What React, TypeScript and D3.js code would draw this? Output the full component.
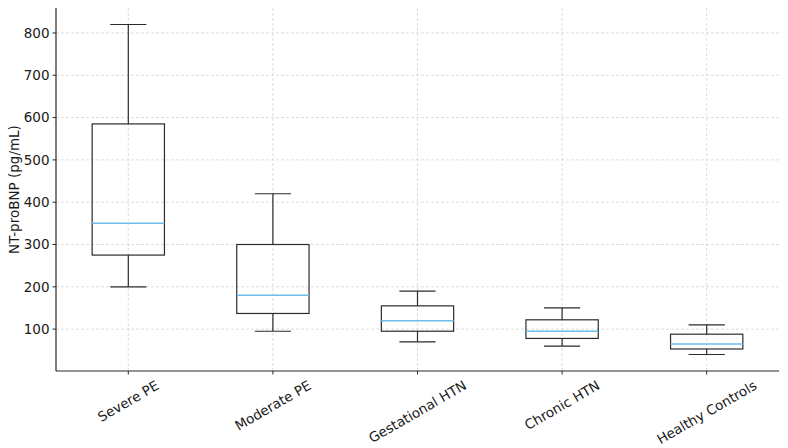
import React, { useEffect, useRef } from 'react';
import * as d3 from 'd3';

// Group names and box statistics (pg/mL)
const GROUPS = ['Severe PE', 'Moderate PE', 'Gestational HTN', 'Chronic HTN', 'Healthy Controls'];
const WHISKER_LOW = [200, 95, 70, 60, 40];
const Q1 = [275, 137, 95, 78, 53];
const MEDIAN = [350, 180, 120, 95, 65];
const Q3 = [585, 300, 155, 122, 88];
const WHISKER_HIGH = [820, 420, 190, 150, 110];
const Y_TICKS = [100, 200, 300, 400, 500, 600, 700, 800];

const App: React.FC = () => {
  const svgRef = useRef<SVGSVGElement>(null);

  useEffect(() => {
    if (!svgRef.current) return;
    d3.select(svgRef.current).selectAll('*').remove();

    const width = 788;
    const height = 448;
    const margin = { top: 8, right: 9, bottom: 77, left: 56 };
    const innerW = width - margin.left - margin.right;
    const innerH = height - margin.top - margin.bottom;
    const fontSize = '13.5px';

    const svg = d3.select(svgRef.current)
      .attr('width', width)
      .attr('height', height)
      .style('font-family', 'DejaVu Sans, sans-serif');

    const g = svg.append('g')
      .attr('transform', `translate(${margin.left},${margin.top})`);

    // positions 1..n with 0.5 padding like matplotlib's boxplot
    const x = d3.scaleLinear().domain([0.5, GROUPS.length + 0.5]).range([0, innerW]);
    const y = d3.scaleLinear().domain([1, 859]).range([innerH, 0]);
    const unit = x(2) - x(1);

    const data = GROUPS.map((name, i) => ({
      name,
      pos: i + 1,
      lo: WHISKER_LOW[i],
      q1: Q1[i],
      med: MEDIAN[i],
      q3: Q3[i],
      hi: WHISKER_HIGH[i]
    }));

    // grid
    const gridColor = '#d4d4d4';
    g.selectAll('.hgrid')
      .data(Y_TICKS)
      .enter()
      .append('line')
      .attr('x1', 0)
      .attr('x2', innerW)
      .attr('y1', d => y(d))
      .attr('y2', d => y(d))
      .attr('stroke', gridColor)
      .attr('stroke-width', 0.8)
      .attr('stroke-dasharray', '3,2');

    g.selectAll('.vgrid')
      .data(data)
      .enter()
      .append('line')
      .attr('x1', d => x(d.pos))
      .attr('x2', d => x(d.pos))
      .attr('y1', 0)
      .attr('y2', innerH)
      .attr('stroke', gridColor)
      .attr('stroke-width', 0.8)
      .attr('stroke-dasharray', '3,2');

    const stroke = '#2b2b2b';
    const boxes = g.selectAll('.box')
      .data(data)
      .enter()
      .append('g');

    // whiskers
    boxes.append('line')
      .attr('x1', d => x(d.pos)).attr('x2', d => x(d.pos))
      .attr('y1', d => y(d.q3)).attr('y2', d => y(d.hi))
      .attr('stroke', stroke).attr('stroke-width', 1.2);
    boxes.append('line')
      .attr('x1', d => x(d.pos)).attr('x2', d => x(d.pos))
      .attr('y1', d => y(d.lo)).attr('y2', d => y(d.q1))
      .attr('stroke', stroke).attr('stroke-width', 1.2);

    // caps
    boxes.append('line')
      .attr('x1', d => x(d.pos - 0.125)).attr('x2', d => x(d.pos + 0.125))
      .attr('y1', d => y(d.hi)).attr('y2', d => y(d.hi))
      .attr('stroke', stroke).attr('stroke-width', 1.2);
    boxes.append('line')
      .attr('x1', d => x(d.pos - 0.125)).attr('x2', d => x(d.pos + 0.125))
      .attr('y1', d => y(d.lo)).attr('y2', d => y(d.lo))
      .attr('stroke', stroke).attr('stroke-width', 1.2);

    // box
    boxes.append('rect')
      .attr('x', d => x(d.pos) - unit * 0.25)
      .attr('width', unit * 0.5)
      .attr('y', d => y(d.q3))
      .attr('height', d => y(d.q1) - y(d.q3))
      .attr('fill', 'none')
      .attr('stroke', stroke)
      .attr('stroke-width', 1.2);

    // median
    boxes.append('line')
      .attr('x1', d => x(d.pos) - unit * 0.25).attr('x2', d => x(d.pos) + unit * 0.25)
      .attr('y1', d => y(d.med)).attr('y2', d => y(d.med))
      .attr('stroke', '#6cbde9').attr('stroke-width', 1.5);

    // spines
    g.append('line')
      .attr('x1', 0).attr('x2', 0).attr('y1', 0).attr('y2', innerH)
      .attr('stroke', stroke).attr('stroke-width', 1.2);
    g.append('line')
      .attr('x1', 0).attr('x2', innerW).attr('y1', innerH).attr('y2', innerH)
      .attr('stroke', stroke).attr('stroke-width', 1.2);

    // y ticks and labels
    g.selectAll('.ytick')
      .data(Y_TICKS)
      .enter()
      .append('line')
      .attr('x1', 0).attr('x2', -3.5)
      .attr('y1', d => y(d)).attr('y2', d => y(d))
      .attr('stroke', stroke).attr('stroke-width', 1);
    g.selectAll('.ylabel')
      .data(Y_TICKS)
      .enter()
      .append('text')
      .attr('x', -6.5)
      .attr('y', d => y(d))
      .attr('dy', '0.35em')
      .attr('text-anchor', 'end')
      .style('font-size', fontSize)
      .style('fill', '#1a1a1a')
      .text(d => d);

    // x ticks and labels
    g.selectAll('.xtick')
      .data(data)
      .enter()
      .append('line')
      .attr('x1', d => x(d.pos)).attr('x2', d => x(d.pos))
      .attr('y1', innerH).attr('y2', innerH + 3.5)
      .attr('stroke', stroke).attr('stroke-width', 1);
    const xLabels = g.selectAll<SVGTextElement, typeof data[0]>('.xlabel')
      .data(data)
      .enter()
      .append('text')
      .attr('text-anchor', 'middle')
      .attr('dy', '0.35em')
      .style('font-size', fontSize)
      .style('fill', '#1a1a1a')
      .text(d => d.name);
    // rotated labels hang from a common top edge, like matplotlib's va='top'
    const angle = Math.PI / 6;
    const lineH = 15.5;
    xLabels.attr('transform', function (d) {
      const w = this.getComputedTextLength();
      const boxH = w * Math.sin(angle) + lineH * Math.cos(angle);
      const cy = innerH + 6.5 + boxH / 2;
      return `translate(${x(d.pos)},${cy}) rotate(-30)`;
    });

    // y axis title
    svg.append('text')
      .attr('transform', `translate(19,${margin.top + innerH / 2}) rotate(-90)`)
      .attr('text-anchor', 'middle')
      .style('font-size', fontSize)
      .style('fill', '#1a1a1a')
      .text('NT-proBNP (pg/mL)');
  }, []);

  return (
    <div style={{ position: 'absolute', left: 0, top: 0 }}>
      <svg ref={svgRef} />
    </div>
  );
};

export default App;
